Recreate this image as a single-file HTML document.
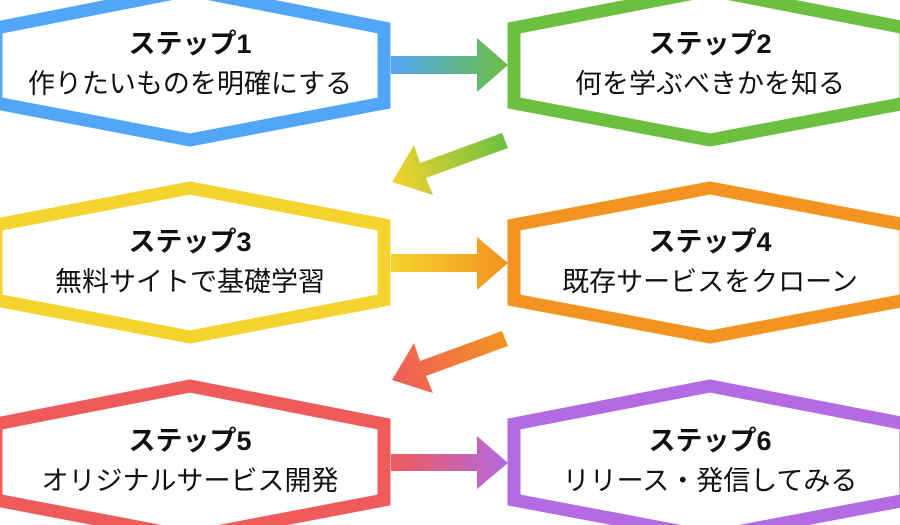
<!DOCTYPE html>
<html><head><meta charset="utf-8"><style>
html,body{margin:0;padding:0;background:#fff;width:900px;height:525px;overflow:hidden}
svg text{font-family:"Liberation Sans","Noto Sans CJK JP",sans-serif;fill:#111}
.t{font-weight:bold;font-size:27px}
.s{font-size:27px}
</style></head><body>
<svg width="900" height="525" viewBox="0 0 900 525" xmlns="http://www.w3.org/2000/svg">
<defs>
<linearGradient id="g1" x1="391" y1="0" x2="508" y2="0" gradientUnits="userSpaceOnUse"><stop offset="0" stop-color="#52a6f8"/><stop offset="1" stop-color="#6cc040"/></linearGradient>
<linearGradient id="g2" x1="505" y1="140" x2="392" y2="182" gradientUnits="userSpaceOnUse"><stop offset="0" stop-color="#6cc040"/><stop offset="1" stop-color="#f5d32e"/></linearGradient>
<linearGradient id="g3" x1="391" y1="0" x2="508" y2="0" gradientUnits="userSpaceOnUse"><stop offset="0" stop-color="#f5d32e"/><stop offset="1" stop-color="#f39320"/></linearGradient>
<linearGradient id="g4" x1="505" y1="340" x2="392" y2="382" gradientUnits="userSpaceOnUse"><stop offset="0" stop-color="#f39320"/><stop offset="1" stop-color="#ef5b5b"/></linearGradient>
<linearGradient id="g5" x1="391" y1="0" x2="508" y2="0" gradientUnits="userSpaceOnUse"><stop offset="0" stop-color="#ef5b5b"/><stop offset="1" stop-color="#b36ae2"/></linearGradient>
</defs>
<g fill="#fff" stroke-width="13" stroke-linejoin="miter">
<polygon stroke="#52a6f8" points="190,-10 384,28 384,103 190,140 -4,103 -4,28"/>
<polygon stroke="#6cc040" points="710,-10 906,28 906,103 710,140 514,103 514,28"/>
<polygon stroke="#f5d32e" points="190,188 384,225 384,300 190,337 -4,300 -4,225"/>
<polygon stroke="#f39320" points="710,188 906,225 906,300 710,337 514,300 514,225"/>
<polygon stroke="#ef5b5b" points="190,386 384,424 384,500 190,537 -4,500 -4,424"/>
<polygon stroke="#b36ae2" points="710,386 906,424 906,500 710,537 514,500 514,424"/>
</g>
<polygon fill="url(#g1)" points="391,56 477,56 477,38 508,65 477,92 477,74 391,74"/>
<polygon fill="url(#g3)" points="391,254 477,254 477,237 508,263 477,290 477,272 391,272"/>
<polygon fill="url(#g5)" points="391,454 477,454 477,436 508,463 477,489 477,471 391,471"/>
<polygon fill="url(#g2)" points="502,133 420,163 414,145 392,182 433,195 426,178 508,148"/>
<polygon fill="url(#g4)" points="502,331 420,361 414,343 392,380 433,393 426,376 508,346"/>
<g text-anchor="middle">
<text class="t" x="190" y="53">ステップ1</text><text class="s" x="190" y="93">作りたいものを明確にする</text>
<text class="t" x="710" y="53">ステップ2</text><text class="s" x="710" y="93">何を学ぶべきかを知る</text>
<text class="t" x="190" y="251">ステップ3</text><text class="s" x="190" y="291">無料サイトで基礎学習</text>
<text class="t" x="710" y="251">ステップ4</text><text class="s" x="710" y="291">既存サービスをクローン</text>
<text class="t" x="190" y="450">ステップ5</text><text class="s" x="190" y="490">オリジナルサービス開発</text>
<text class="t" x="710" y="450">ステップ6</text><text class="s" x="710" y="490">リリース・発信してみる</text>
</g>
</svg>
</body></html>
